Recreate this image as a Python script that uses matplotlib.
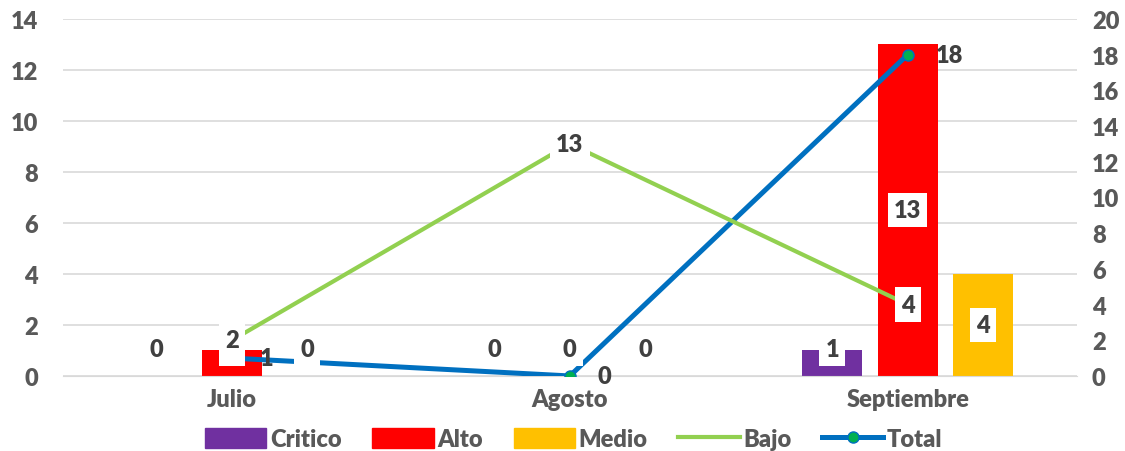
import matplotlib.pyplot as plt
from matplotlib.patches import Patch
from matplotlib.lines import Line2D

# Datos
meses = ['Julio', 'Agosto', 'Septiembre']
critico = [0, 0, 1]
alto = [1, 0, 13]
medio = [0, 0, 4]
bajo = [2, 13, 4]
total = [1, 0, 18]

gris = '#595959'
fs = 17
plt.rcParams['font.family'] = ['Lato', 'DejaVu Sans']
plt.rcParams['font.weight'] = 'heavy'

fig = plt.figure(figsize=(11.25, 4.52), dpi=100)
ax1 = fig.add_axes([0.056, 0.166, 0.901, 0.790])
ax2 = ax1.twinx()

x = list(range(len(meses)))
ancho = 0.178
desp = 0.223
series = [(critico, '#7030A0', -desp), (alto, '#FF0000', 0), (medio, '#FFC000', desp)]
for vals, color, d in series:
    ax1.bar([i + d for i in x], vals, width=ancho, color=color, zorder=2)

ax1.set_xlim(-0.5, 2.5)
ax1.set_ylim(0, 14)
ax1.set_yticks(range(0, 15, 2))
ax2.set_ylim(0, 20)
ax2.set_yticks(range(0, 21, 2))
ax1.set_xticks(x)
ax1.set_xticklabels(meses)

ax1.grid(axis='y', color='#d9d9d9', linewidth=1.2, zorder=0)
ax1.set_axisbelow(True)
for ax in (ax1, ax2):
    for s in ax.spines.values():
        s.set_visible(False)
ax1.tick_params(axis='y', length=0, pad=18, labelsize=fs, labelcolor=gris)
ax1.tick_params(axis='x', length=0, pad=9, labelsize=fs, labelcolor=gris)
ax2.tick_params(axis='y', length=0, pad=11, labelsize=fs, labelcolor=gris)
ax1.spines['bottom'].set_visible(True)
ax1.spines['bottom'].set_color('#d9d9d9')

# Líneas en eje secundario
ax2.plot(x, total, color='#0070C0', linewidth=3.6, marker='o', markersize=8,
         markerfacecolor='#00B050', markeredgecolor='#0070C0', zorder=2)
ax2.plot(x, bajo, color='#92D050', linewidth=3, zorder=2.5)

caja = dict(facecolor='white', edgecolor='none', pad=4.5)
# Etiquetas de barras
for vals, color, d in series:
    for i, v in enumerate(vals):
        y = max(v / 2, 1.06)
        ax2.text(i + d, y, str(v), transform=ax1.transData, ha='center', va='center',
                 fontsize=fs, color='#404040', bbox=caja, zorder=4)
# Etiquetas de Bajo
for i, v in enumerate(bajo):
    ax2.text(i, v, str(v), ha='center', va='center', fontsize=fs, color='#404040',
             bbox=caja, zorder=5)
# Etiquetas de Total
for i, v in enumerate(total):
    ax2.annotate(str(v), (i, v), xytext=(20, 0), textcoords='offset points',
                 ha='left', va='center', fontsize=fs, color='#404040', zorder=6)

handles = [Patch(color='#7030A0', label='Critico'),
           Patch(color='#FF0000', label='Alto'),
           Patch(color='#FFC000', label='Medio'),
           Line2D([], [], color='#92D050', linewidth=3, label='Bajo'),
           Line2D([], [], color='#0070C0', linewidth=3.6, marker='o', markersize=8,
                  markerfacecolor='#00B050', markeredgecolor='#0070C0', label='Total')]
leg = fig.legend(handles=handles, loc='center', bbox_to_anchor=(0.51, 0.026), ncol=5,
                 frameon=False, fontsize=fs, handlelength=2.6, handletextpad=0.15,
                 columnspacing=1.3, handleheight=0.9, borderpad=0.1)
for t in leg.get_texts():
    t.set_color(gris)

fig.savefig('out.png', dpi=100)
